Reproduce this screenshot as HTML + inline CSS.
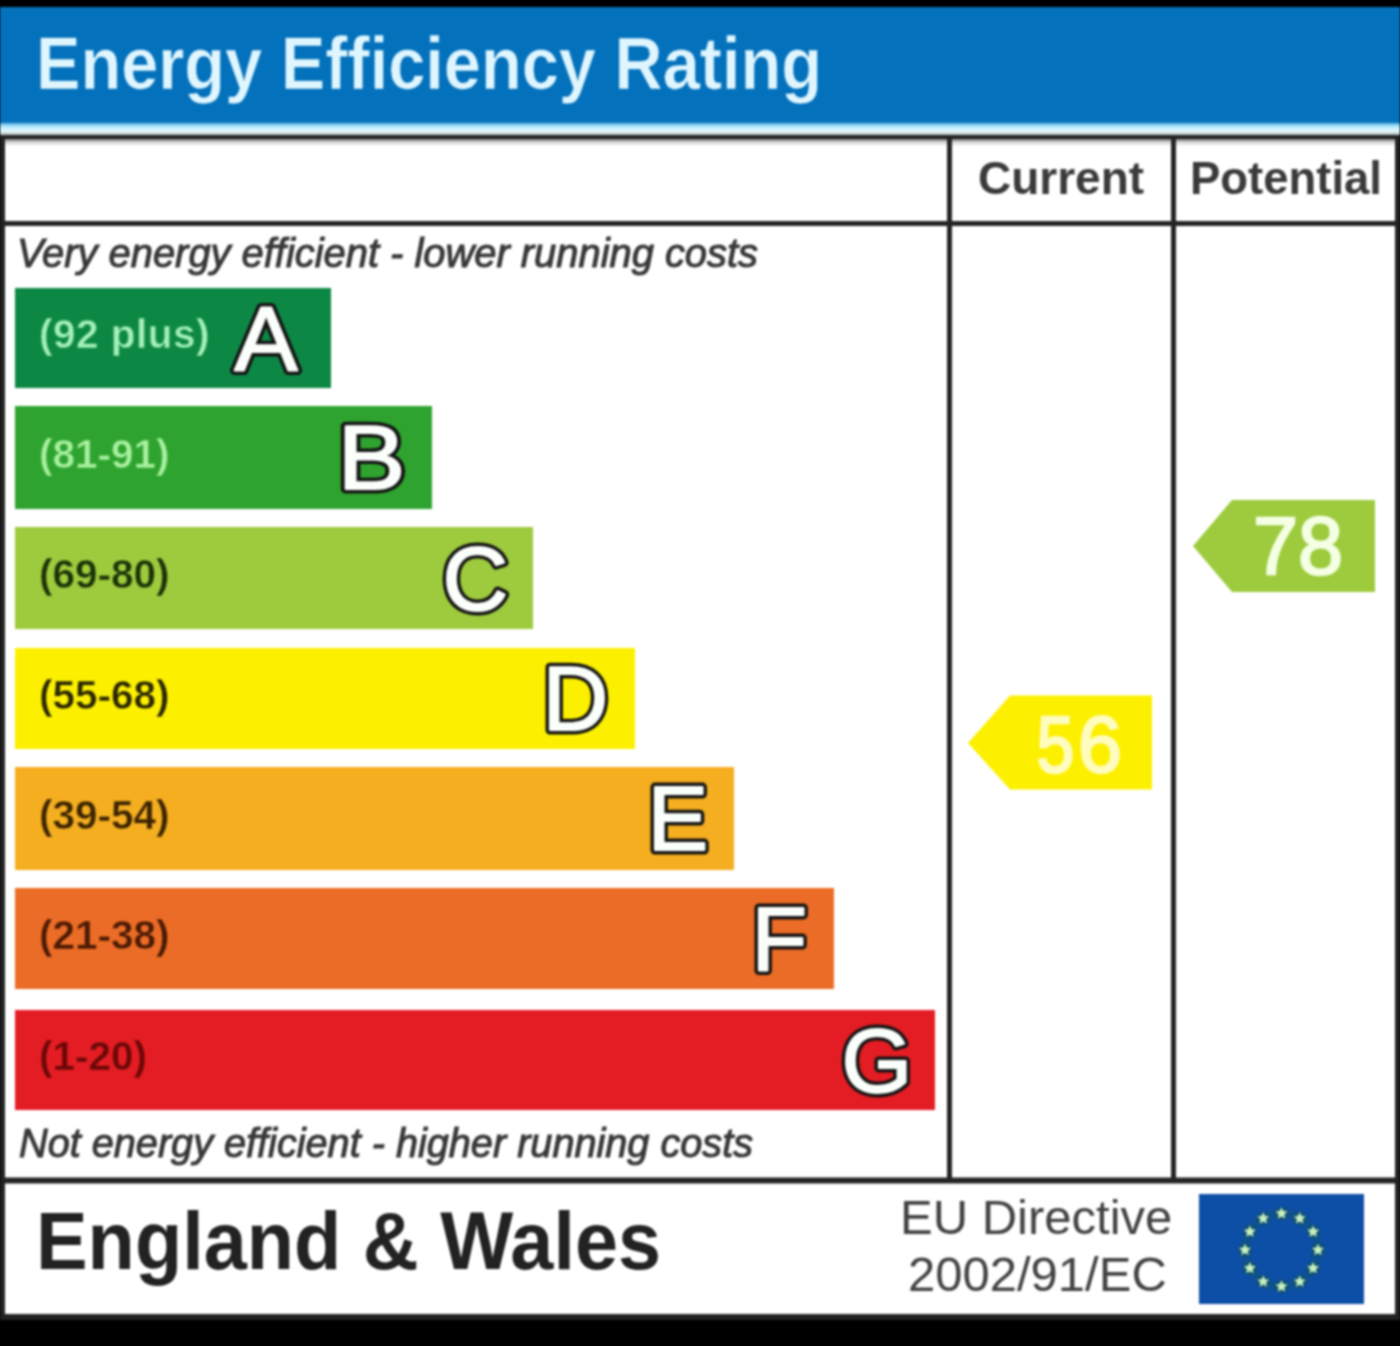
<!DOCTYPE html>
<html><head><meta charset="utf-8"><title>Energy Efficiency Rating</title>
<style>html,body{margin:0;padding:0;background:#000;width:1400px;height:1346px;overflow:hidden}svg{display:block}#wrap{filter:blur(1px)}</style>
</head><body>
<div id="wrap"><svg width="1400" height="1346" viewBox="0 0 1400 1346"><rect x="0" y="0" width="1400" height="1346" fill="#000"/>
<rect x="0" y="7" width="1400" height="117" fill="#0371bc"/>
<defs><linearGradient id="lb" x1="0" y1="0" x2="0" y2="1"><stop offset="0" stop-color="#3a96d0"/><stop offset="0.25" stop-color="#a4e2fa"/><stop offset="0.62" stop-color="#e2faff"/><stop offset="0.8" stop-color="#d8e4e4"/><stop offset="1" stop-color="#8a9494"/></linearGradient></defs>
<rect x="0" y="122.5" width="1400" height="13" fill="url(#lb)"/>
<rect x="0" y="135.5" width="1400" height="1184.5" fill="#222"/>
<rect x="5" y="139.5" width="1390" height="1174.5" fill="#ffffff"/>
<defs><linearGradient id="sh" x1="0" y1="0" x2="0" y2="1"><stop offset="0" stop-color="#888"/><stop offset="0.35" stop-color="#cfd2cf"/><stop offset="0.7" stop-color="#eeeeee"/><stop offset="1" stop-color="#fff"/></linearGradient></defs>
<rect x="5" y="139.5" width="1390" height="7" fill="url(#sh)"/>
<rect x="5" y="221" width="1390" height="5" fill="#242424"/>
<rect x="5" y="1177.5" width="1390" height="6" fill="#242424"/>
<rect x="947" y="139" width="5" height="1040" fill="#242424"/>
<rect x="1171" y="139" width="5" height="1040" fill="#242424"/>
<text x="36" y="88.5" font-family="Liberation Sans" font-weight="bold" font-size="74" fill="#e0f6ff" stroke="#0371bc" stroke-width="0.6" textLength="786" lengthAdjust="spacingAndGlyphs">Energy Efficiency Rating</text>
<text x="978" y="193.8" font-family="Liberation Sans" font-weight="bold" font-size="46" fill="#3a3a3a">Current</text>
<text x="1190" y="193.8" font-family="Liberation Sans" font-weight="bold" font-size="46" fill="#3a3a3a" textLength="192" lengthAdjust="spacingAndGlyphs">Potential</text>
<text x="17" y="266.5" font-family="Liberation Sans" font-style="italic" font-size="41.4" fill="#383838" stroke="#383838" stroke-width="1.1" textLength="741" lengthAdjust="spacingAndGlyphs">Very energy efficient - lower running costs</text>
<text x="19" y="1156.5" font-family="Liberation Sans" font-style="italic" font-size="41.4" fill="#383838" stroke="#383838" stroke-width="1.1" textLength="734" lengthAdjust="spacingAndGlyphs">Not energy efficient - higher running costs</text>
<rect x="15" y="288" width="316" height="100" fill="#0d8844"/>
<text x="39" y="348.0" font-family="Liberation Sans" font-weight="bold" font-size="40.5" fill="#a4f0b8" stroke="#0d8844" stroke-width="0.5" letter-spacing="0.5">(92 plus)</text>
<text x="0" y="0" transform="translate(234.46,369.5) scale(1.04,1)" font-family="Liberation Sans" font-size="91" fill="#141414" stroke="#141414" stroke-width="9" stroke-linejoin="round">A</text>
<text x="0" y="0" transform="translate(234.46,369.5) scale(1.04,1)" font-family="Liberation Sans" font-size="91" fill="#fbfffb" stroke="#fbfffb" stroke-width="2" stroke-linejoin="round">A</text>
<rect x="15" y="406" width="417" height="103" fill="#2fa32f"/>
<text x="39" y="467.5" font-family="Liberation Sans" font-weight="bold" font-size="40.5" fill="#a8f0a0" stroke="#2fa32f" stroke-width="0.5">(81-91)</text>
<text x="0" y="0" transform="translate(337.54,489.0) scale(1.12,1)" font-family="Liberation Sans" font-size="91" fill="#141414" stroke="#141414" stroke-width="9" stroke-linejoin="round">B</text>
<text x="0" y="0" transform="translate(337.54,489.0) scale(1.12,1)" font-family="Liberation Sans" font-size="91" fill="#fbfffb" stroke="#fbfffb" stroke-width="2" stroke-linejoin="round">B</text>
<rect x="15" y="527" width="518" height="102" fill="#9dcb3d"/>
<text x="39" y="588.0" font-family="Liberation Sans" font-weight="bold" font-size="40.5" fill="#1c3208" stroke="#9dcb3d" stroke-width="0.5">(69-80)</text>
<text x="0" y="0" transform="translate(442.50,609.5) scale(1.0,1)" font-family="Liberation Sans" font-size="91" fill="#141414" stroke="#141414" stroke-width="9" stroke-linejoin="round">C</text>
<text x="0" y="0" transform="translate(442.50,609.5) scale(1.0,1)" font-family="Liberation Sans" font-size="91" fill="#fbfffb" stroke="#fbfffb" stroke-width="2" stroke-linejoin="round">C</text>
<rect x="15" y="648" width="620" height="101" fill="#fcf000"/>
<text x="39" y="708.5" font-family="Liberation Sans" font-weight="bold" font-size="40.5" fill="#2a2600" stroke="#fcf000" stroke-width="0.5">(55-68)</text>
<text x="0" y="0" transform="translate(542.50,730.0) scale(1.0,1)" font-family="Liberation Sans" font-size="91" fill="#141414" stroke="#141414" stroke-width="9" stroke-linejoin="round">D</text>
<text x="0" y="0" transform="translate(542.50,730.0) scale(1.0,1)" font-family="Liberation Sans" font-size="91" fill="#fbfffb" stroke="#fbfffb" stroke-width="2" stroke-linejoin="round">D</text>
<rect x="15" y="767" width="719" height="103" fill="#f4ae20"/>
<text x="39" y="828.5" font-family="Liberation Sans" font-weight="bold" font-size="40.5" fill="#3c2400" stroke="#f4ae20" stroke-width="0.5">(39-54)</text>
<text x="0" y="0" transform="translate(647.50,850.0) scale(1.0,1)" font-family="Liberation Sans" font-size="91" fill="#141414" stroke="#141414" stroke-width="9" stroke-linejoin="round">E</text>
<text x="0" y="0" transform="translate(647.50,850.0) scale(1.0,1)" font-family="Liberation Sans" font-size="91" fill="#fbfffb" stroke="#fbfffb" stroke-width="2" stroke-linejoin="round">E</text>
<rect x="15" y="888" width="819" height="101" fill="#eb6c26"/>
<text x="39" y="948.5" font-family="Liberation Sans" font-weight="bold" font-size="40.5" fill="#4a1a04" stroke="#eb6c26" stroke-width="0.5">(21-38)</text>
<text x="0" y="0" transform="translate(751.50,970.0) scale(1.0,1)" font-family="Liberation Sans" font-size="91" fill="#141414" stroke="#141414" stroke-width="9" stroke-linejoin="round">F</text>
<text x="0" y="0" transform="translate(751.50,970.0) scale(1.0,1)" font-family="Liberation Sans" font-size="91" fill="#fbfffb" stroke="#fbfffb" stroke-width="2" stroke-linejoin="round">F</text>
<rect x="15" y="1010" width="920" height="100" fill="#e31d23"/>
<text x="39" y="1070.0" font-family="Liberation Sans" font-weight="bold" font-size="40.5" fill="#6a0808" stroke="#e31d23" stroke-width="0.5">(1-20)</text>
<text x="0" y="0" transform="translate(841.50,1091.5) scale(1.0,1)" font-family="Liberation Sans" font-size="91" fill="#141414" stroke="#141414" stroke-width="9" stroke-linejoin="round">G</text>
<text x="0" y="0" transform="translate(841.50,1091.5) scale(1.0,1)" font-family="Liberation Sans" font-size="91" fill="#fbfffb" stroke="#fbfffb" stroke-width="2" stroke-linejoin="round">G</text>
<polygon points="968,743 1010,695.5 1152,695.5 1152,789.5 1010,789.5" fill="#fcf000"/>
<text x="0" y="0" transform="translate(1036.5,771.5) scale(0.86,1)" font-family="Liberation Sans" font-size="79" fill="#fffcc0" stroke="#fffcc0" stroke-width="2.6">5</text>
<text x="1078" y="771.5" font-family="Liberation Sans" font-size="79" fill="#fffcc0" stroke="#fffcc0" stroke-width="2.6">6</text>
<polygon points="1193,546 1232,500 1375,500 1375,592 1232,592" fill="#9dcb3d"/>
<text x="1253" y="573.5" font-family="Liberation Sans" font-size="81" fill="#f4ffe4" stroke="#f4ffe4" stroke-width="2.4">78</text>
<text x="36" y="1269" font-family="Liberation Sans" font-weight="bold" font-size="81" fill="#222" textLength="625" lengthAdjust="spacingAndGlyphs">England &amp; Wales</text>
<text x="900" y="1234" font-family="Liberation Sans" font-size="49" fill="#424242">EU Directive</text>
<text x="908" y="1291" font-family="Liberation Sans" font-size="49" fill="#424242">2002/91/EC</text>
<rect x="1199" y="1194" width="165" height="110" fill="#0d4ea6"/>
<circle cx="1281.5" cy="1250" r="36.5" fill="none" stroke="#125a58" stroke-width="9" opacity="0.25"/>
<circle cx="1281.50" cy="1213.50" r="7" fill="#145048" opacity="0.45"/>
<polygon points="1281.50,1207.30 1283.26,1211.07 1287.40,1211.58 1284.35,1214.43 1285.14,1218.52 1281.50,1216.50 1277.86,1218.52 1278.65,1214.43 1275.60,1211.58 1279.74,1211.07" fill="#c8f0c0"/>
<circle cx="1299.75" cy="1218.39" r="7" fill="#145048" opacity="0.45"/>
<polygon points="1299.75,1212.19 1301.51,1215.96 1305.65,1216.47 1302.60,1219.32 1303.39,1223.41 1299.75,1221.39 1296.11,1223.41 1296.90,1219.32 1293.85,1216.47 1297.99,1215.96" fill="#c8f0c0"/>
<circle cx="1313.11" cy="1231.75" r="7" fill="#145048" opacity="0.45"/>
<polygon points="1313.11,1225.55 1314.87,1229.32 1319.01,1229.83 1315.96,1232.68 1316.75,1236.77 1313.11,1234.75 1309.47,1236.77 1310.26,1232.68 1307.21,1229.83 1311.35,1229.32" fill="#c8f0c0"/>
<circle cx="1318.00" cy="1250.00" r="7" fill="#145048" opacity="0.45"/>
<polygon points="1318.00,1243.80 1319.76,1247.57 1323.90,1248.08 1320.85,1250.93 1321.64,1255.02 1318.00,1253.00 1314.36,1255.02 1315.15,1250.93 1312.10,1248.08 1316.24,1247.57" fill="#c8f0c0"/>
<circle cx="1313.11" cy="1268.25" r="7" fill="#145048" opacity="0.45"/>
<polygon points="1313.11,1262.05 1314.87,1265.82 1319.01,1266.33 1315.96,1269.18 1316.75,1273.27 1313.11,1271.25 1309.47,1273.27 1310.26,1269.18 1307.21,1266.33 1311.35,1265.82" fill="#c8f0c0"/>
<circle cx="1299.75" cy="1281.61" r="7" fill="#145048" opacity="0.45"/>
<polygon points="1299.75,1275.41 1301.51,1279.18 1305.65,1279.69 1302.60,1282.54 1303.39,1286.63 1299.75,1284.61 1296.11,1286.63 1296.90,1282.54 1293.85,1279.69 1297.99,1279.18" fill="#c8f0c0"/>
<circle cx="1281.50" cy="1286.50" r="7" fill="#145048" opacity="0.45"/>
<polygon points="1281.50,1280.30 1283.26,1284.07 1287.40,1284.58 1284.35,1287.43 1285.14,1291.52 1281.50,1289.50 1277.86,1291.52 1278.65,1287.43 1275.60,1284.58 1279.74,1284.07" fill="#c8f0c0"/>
<circle cx="1263.25" cy="1281.61" r="7" fill="#145048" opacity="0.45"/>
<polygon points="1263.25,1275.41 1265.01,1279.18 1269.15,1279.69 1266.10,1282.54 1266.89,1286.63 1263.25,1284.61 1259.61,1286.63 1260.40,1282.54 1257.35,1279.69 1261.49,1279.18" fill="#c8f0c0"/>
<circle cx="1249.89" cy="1268.25" r="7" fill="#145048" opacity="0.45"/>
<polygon points="1249.89,1262.05 1251.65,1265.82 1255.79,1266.33 1252.74,1269.18 1253.53,1273.27 1249.89,1271.25 1246.25,1273.27 1247.04,1269.18 1243.99,1266.33 1248.13,1265.82" fill="#c8f0c0"/>
<circle cx="1245.00" cy="1250.00" r="7" fill="#145048" opacity="0.45"/>
<polygon points="1245.00,1243.80 1246.76,1247.57 1250.90,1248.08 1247.85,1250.93 1248.64,1255.02 1245.00,1253.00 1241.36,1255.02 1242.15,1250.93 1239.10,1248.08 1243.24,1247.57" fill="#c8f0c0"/>
<circle cx="1249.89" cy="1231.75" r="7" fill="#145048" opacity="0.45"/>
<polygon points="1249.89,1225.55 1251.65,1229.32 1255.79,1229.83 1252.74,1232.68 1253.53,1236.77 1249.89,1234.75 1246.25,1236.77 1247.04,1232.68 1243.99,1229.83 1248.13,1229.32" fill="#c8f0c0"/>
<circle cx="1263.25" cy="1218.39" r="7" fill="#145048" opacity="0.45"/>
<polygon points="1263.25,1212.19 1265.01,1215.96 1269.15,1216.47 1266.10,1219.32 1266.89,1223.41 1263.25,1221.39 1259.61,1223.41 1260.40,1219.32 1257.35,1216.47 1261.49,1215.96" fill="#c8f0c0"/></svg></div>
</body></html>
